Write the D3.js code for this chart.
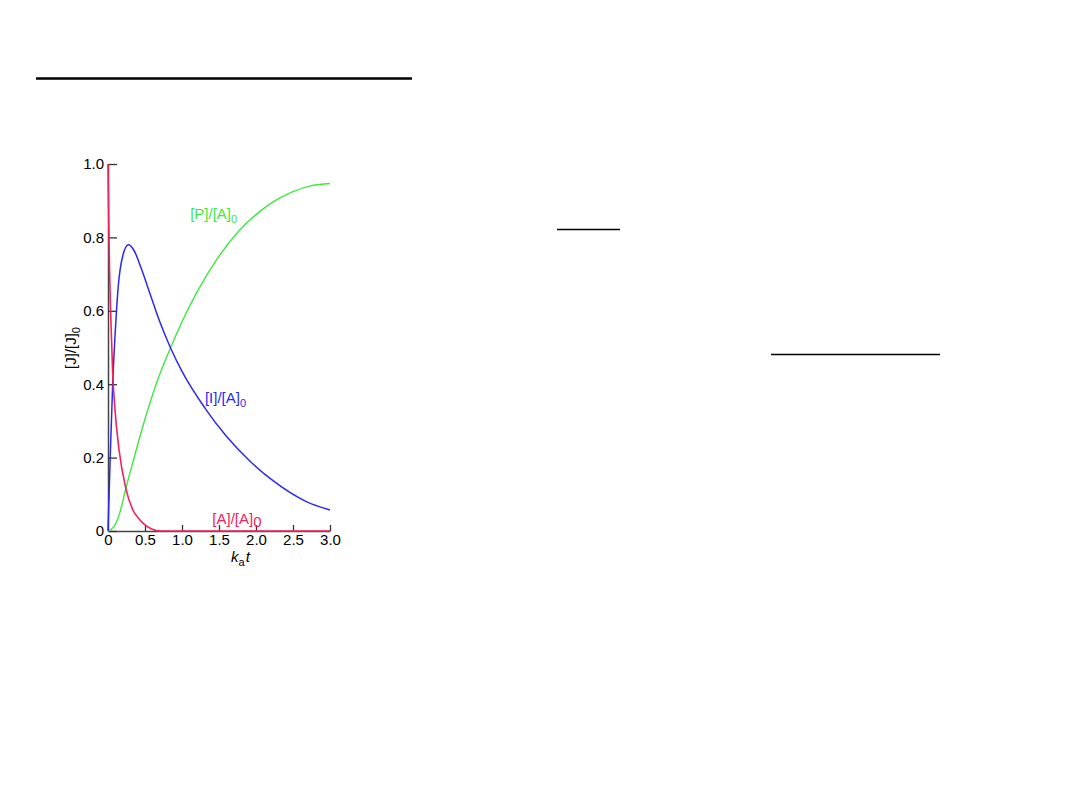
<!DOCTYPE html>
<html>
<head>
	<meta charset="utf-8">
	<script src="https://d3js.org/d3.v7.min.js"></script>
	<style>
		body { margin: 0; background: #fff; }
		text { font-family: "Liberation Sans", Arial, sans-serif; }
	</style>
</head>
<body>
	<div id="chart"></div>
	<script>

	// page size
	var width = 1080,
	height = 810;

	// values
	var tA = [0, 0.005, 0.012, 0.02, 0.035, 0.063, 0.095, 0.15, 0.24, 0.33, 0.42, 0.5, 0.6, 0.7, 1.0, 2.0, 3.0];
	var vA = [1.0, 0.92, 0.82, 0.72, 0.6, 0.43, 0.33, 0.22, 0.117, 0.06, 0.033, 0.017, 0.005, 0, 0, 0, 0];

	var tI = [0, 0.015, 0.03, 0.063, 0.1, 0.14, 0.2, 0.275, 0.35, 0.45, 0.57, 0.7, 0.847, 1.0, 1.31, 1.6, 1.92, 2.23, 2.68, 3.0];
	var vI = [0, 0.1, 0.2, 0.40, 0.55, 0.67, 0.75, 0.78, 0.765, 0.715, 0.645, 0.57, 0.498, 0.435, 0.335, 0.258, 0.19, 0.137, 0.08, 0.057];

	var tP = [0, 0.08, 0.16, 0.24, 0.34, 0.5, 0.65, 0.847, 1.0, 1.2, 1.47, 1.78, 2.0, 2.23, 2.5, 2.75, 3.0];
	var vP = [0, 0.012, 0.05, 0.115, 0.19, 0.305, 0.4, 0.5, 0.57, 0.65, 0.74, 0.82, 0.862, 0.897, 0.925, 0.941, 0.947];

	var xTicks = [0, 0.5, 1.0, 1.5, 2.0, 2.5, 3.0];
	var xTickLabels = ["0", "0.5", "1.0", "1.5", "2.0", "2.5", "3.0"];
	var yTicks = [0, 0.2, 0.4, 0.6, 0.8, 1.0];
	var yTickLabels = ["0", "0.2", "0.4", "0.6", "0.8", "1.0"];

	var colA = "#f5215a",
	colI = "#2a2af0",
	colP = "#3ee83e";

	var svg = d3.select("#chart").append("svg")
	  .attr("width", width)
	  .attr("height", height);

	// slide rules
	svg.append("line").attr("x1", 36).attr("x2", 412).attr("y1", 78.5).attr("y2", 78.5)
		.attr("stroke", "#000").attr("stroke-width", 2.5);
	svg.append("line").attr("x1", 557).attr("x2", 620).attr("y1", 229.5).attr("y2", 229.5)
		.attr("stroke", "#000").attr("stroke-width", 1.3);
	svg.append("line").attr("x1", 771).attr("x2", 940).attr("y1", 354.5).attr("y2", 354.5)
		.attr("stroke", "#000").attr("stroke-width", 1.3);

	// scales
	var x = d3.scaleLinear().domain([0, 3]).range([108, 330]);
	var y = d3.scaleLinear().domain([0, 1]).range([531, 164]);

	// axes
	var gx = svg.append("g")
		.attr("transform", "translate(0," + y(0) + ")")
		.call(d3.axisBottom(x).tickValues(xTicks)
			.tickFormat((d, i) => xTickLabels[i])
			.tickSizeInner(-6).tickSizeOuter(0).tickPadding(3));
	var gy = svg.append("g")
		.attr("transform", "translate(" + x(0) + ",0)")
		.call(d3.axisLeft(y).tickValues(yTicks)
			.tickFormat((d, i) => yTickLabels[i])
			.tickSizeInner(-9).tickSizeOuter(0).tickPadding(4));

	[gx, gy].forEach(function(g) {
		g.select(".domain").attr("stroke", "#444").attr("stroke-width", 1.5);
		g.selectAll(".tick line").attr("stroke", "#333").attr("stroke-width", 1.3);
		g.selectAll(".tick text").attr("fill", "#000").style("font-size", "15px")
			.style("font-family", "'Liberation Sans', Arial, sans-serif");
	});
	gx.selectAll(".tick").filter(d => d === 0).select("line").remove();

	// curves
	var line = d3.line()
		.x(d => x(d[0]))
		.y(d => y(d[1]))
		.curve(d3.curveMonotoneX);

	var series = [
		{t: tP, v: vP, c: colP, w: 1.4},
		{t: tI, v: vI, c: colI, w: 1.5},
		{t: tA, v: vA, c: colA, w: 1.6}
	];

	svg.append("g")
		.selectAll("path")
		.data(series)
		.join("path")
		  .attr("d", s => line(s.t.map((t, i) => [t, s.v[i]])))
		  .attr("fill", "none")
		  .attr("stroke", s => s.c)
		  .attr("stroke-width", s => s.w);

	// curve labels
	function label(px, py, main, sub, col, subSize, subDy) {
		var t = svg.append("text")
			.attr("x", px).attr("y", py)
			.attr("fill", col)
			.style("font-size", "15px");
		t.append("tspan").text(main);
		t.append("tspan").text(sub)
			.style("font-size", subSize)
			.attr("dy", subDy);
	}
	label(x(1.11), y(0.85), "[P]/[A]", "0", colP, "11px", 4);
	label(x(1.31), y(0.35), "[I]/[A]", "0", colI, "11px", 4);
	label(x(1.41), y(0.02), "[A]/[A]", "0", colA, "15px", 3);

	// axis titles
	var yl = svg.append("text")
		.attr("transform", "translate(76,348) rotate(-90)")
		.attr("text-anchor", "middle")
		.attr("fill", "#000")
		.style("font-size", "15px");
	yl.append("tspan").text("[J]/[J]");
	yl.append("tspan").text("0").style("font-size", "11px").attr("dy", 4);

	var xl = svg.append("text")
		.attr("x", 231).attr("y", 562)
		.attr("fill", "#000")
		.style("font-size", "15px");
	xl.append("tspan").text("k").style("font-style", "italic");
	xl.append("tspan").text("a").style("font-size", "11px").attr("dy", 4);
	xl.append("tspan").text("t").style("font-style", "italic").attr("dy", -4).attr("dx", 1);

</script>
</body>
</html>
